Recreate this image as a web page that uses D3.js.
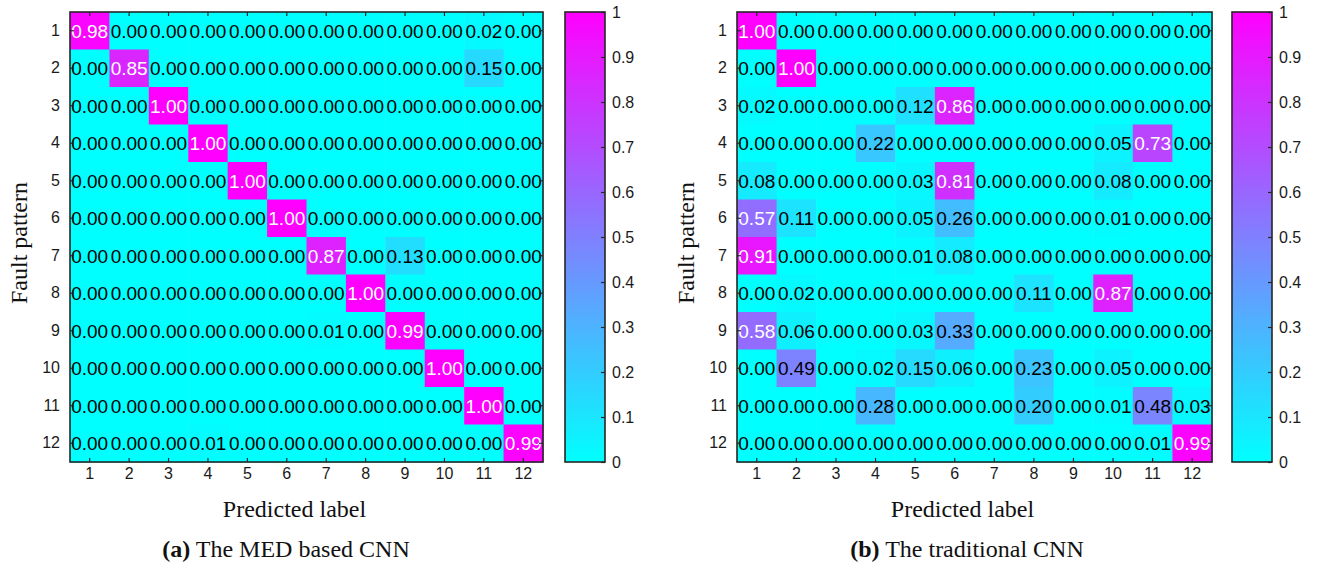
<!DOCTYPE html>
<html>
<head>
<meta charset="utf-8">
<script src="https://cdn.jsdelivr.net/npm/d3@7"></script>
<style>
  body { margin: 0; background: #fff; }
  svg { display: block; }
</style>
</head>
<body>
<div id="caja"></div>
<script>
// clases de falla 1..12
var classes = ["1","2","3","4","5","6","7","8","9","10","11","12"];

// matriz de confusion: MED based CNN (filas = fault pattern)
var medValues = [
  [0.98,0,0,0,0,0,0,0,0,0,0.02,0],
  [0,0.85,0,0,0,0,0,0,0,0,0.15,0],
  [0,0,1.00,0,0,0,0,0,0,0,0,0],
  [0,0,0,1.00,0,0,0,0,0,0,0,0],
  [0,0,0,0,1.00,0,0,0,0,0,0,0],
  [0,0,0,0,0,1.00,0,0,0,0,0,0],
  [0,0,0,0,0,0,0.87,0,0.13,0,0,0],
  [0,0,0,0,0,0,0,1.00,0,0,0,0],
  [0,0,0,0,0,0,0.01,0,0.99,0,0,0],
  [0,0,0,0,0,0,0,0,0,1.00,0,0],
  [0,0,0,0,0,0,0,0,0,0,1.00,0],
  [0,0,0,0.01,0,0,0,0,0,0,0,0.99]
];

// matriz de confusion: traditional CNN
var cnnValues = [
  [1.00,0,0,0,0,0,0,0,0,0,0,0],
  [0,1.00,0,0,0,0,0,0,0,0,0,0],
  [0.02,0,0,0,0.12,0.86,0,0,0,0,0,0],
  [0,0,0,0.22,0,0,0,0,0,0.05,0.73,0],
  [0.08,0,0,0,0.03,0.81,0,0,0,0.08,0,0],
  [0.57,0.11,0,0,0.05,0.26,0,0,0,0.01,0,0],
  [0.91,0,0,0,0.01,0.08,0,0,0,0,0,0],
  [0,0.02,0,0,0,0,0,0.11,0,0.87,0,0],
  [0.58,0.06,0,0,0.03,0.33,0,0,0,0,0,0],
  [0,0.49,0,0.02,0.15,0.06,0,0.23,0,0.05,0,0],
  [0,0,0,0.28,0,0,0,0.20,0,0.01,0.48,0.03],
  [0,0,0,0,0,0,0,0,0,0,0.01,0.99]
];

var colorbarTicks = [0,0.1,0.2,0.3,0.4,0.5,0.6,0.7,0.8,0.9,1];

var w = 1317, h = 571;
var frameColor = "#262626";

var svg = d3.select('#caja')
  .append('svg')
  .attr('width', w)
  .attr('height', h);

// mapa de color tipo "cool" (cian -> magenta)
var color = d3.scaleSequential(d3.interpolateRgb("#00ffff", "#ff00ff")).domain([0, 1]);

var defs = svg.append("defs");
var grad = defs.append("linearGradient")
  .attr("id", "cbgrad")
  .attr("x1", 0).attr("y1", 1).attr("x2", 0).attr("y2", 0);
d3.range(0, 1.01, 0.1).forEach(function(t) {
  grad.append("stop").attr("offset", t).attr("stop-color", color(t));
});

function drawPanel(id, values, left, right, cbLeft, caption, captionBold, captionX) {
  var top = 12, bottom = 462;

  var x = d3.scaleBand().domain(classes).range([left, right]);
  var y = d3.scaleBand().domain(classes).range([top, bottom]);

  var g = svg.append("g");

  defs.append("clipPath").attr("id", "clip" + id)
    .append("rect")
    .attr("x", left).attr("y", top)
    .attr("width", right - left).attr("height", bottom - top);

  var cells = [];
  values.forEach(function(row, i) {
    row.forEach(function(v, j) {
      cells.push({ r: classes[i], c: classes[j], v: v });
    });
  });

  g.append("g").selectAll("rect")
    .data(cells)
    .enter()
    .append("rect")
    .attr("x", function(d) { return x(d.c); })
    .attr("y", function(d) { return y(d.r); })
    .attr("width", x.bandwidth() + 0.5)
    .attr("height", y.bandwidth() + 0.5)
    .attr("fill", function(d) { return color(d.v); });

  g.append("g")
    .attr("clip-path", "url(#clip" + id + ")")
    .selectAll("text")
    .data(cells)
    .enter()
    .append("text")
    .text(function(d) { return d.v.toFixed(2); })
    .attr("x", function(d) { return x(d.c) + x.bandwidth() / 2; })
    .attr("y", function(d) { return y(d.r) + y.bandwidth() / 2; })
    .attr("dy", "0.36em")
    .attr("text-anchor", "middle")
    .attr("font-family", "Liberation Sans, Arial, sans-serif")
    .attr("font-size", "19px")
    .attr("fill", function(d) { return d.v > 0.5 ? "#ffffff" : "#000000"; });

  // ejes con ticks hacia adentro
  function styleAxis(sel) {
    sel.select(".domain").remove();
    sel.selectAll(".tick line").attr("stroke", frameColor).attr("stroke-width", 1.2);
    sel.selectAll(".tick text")
      .attr("font-family", "Liberation Sans, Arial, sans-serif")
      .attr("font-size", "16px")
      .attr("fill", "#1a1a1a");
  }

  g.append("g").attr("transform", "translate(0," + bottom + ")")
    .call(d3.axisBottom(x).tickSizeInner(-4).tickSizeOuter(0).tickPadding(6))
    .call(styleAxis);
  g.append("g").attr("transform", "translate(0," + top + ")")
    .call(d3.axisTop(x).tickSizeInner(-4).tickSizeOuter(0).tickFormat(""))
    .call(styleAxis);
  g.append("g").attr("transform", "translate(" + left + ",0)")
    .call(d3.axisLeft(y).tickSizeInner(-4).tickSizeOuter(0).tickPadding(10))
    .call(styleAxis);
  g.append("g").attr("transform", "translate(" + right + ",0)")
    .call(d3.axisRight(y).tickSizeInner(-4).tickSizeOuter(0).tickFormat(""))
    .call(styleAxis);

  g.append("rect")
    .attr("x", left).attr("y", top)
    .attr("width", right - left).attr("height", bottom - top)
    .attr("fill", "none")
    .attr("stroke", frameColor)
    .attr("stroke-width", 1.6);

  // barra de color
  var cbW = 40;
  var cy = d3.scaleLinear().domain([0, 1]).range([bottom, top]);
  g.append("rect")
    .attr("x", cbLeft).attr("y", top)
    .attr("width", cbW).attr("height", bottom - top)
    .attr("fill", "url(#cbgrad)");
  g.append("g").attr("transform", "translate(" + (cbLeft + cbW) + ",0)")
    .call(d3.axisRight(cy).tickValues(colorbarTicks).tickSizeInner(-4).tickSizeOuter(0).tickPadding(7)
      .tickFormat(function(d) { return (d === 0 || d === 1) ? d3.format("d")(d) : d3.format(".1f")(d); }))
    .call(styleAxis);
  g.append("rect")
    .attr("x", cbLeft).attr("y", top)
    .attr("width", cbW).attr("height", bottom - top)
    .attr("fill", "none")
    .attr("stroke", frameColor)
    .attr("stroke-width", 1.6);

  // titulos de ejes
  g.append("text")
    .text("Predicted label")
    .attr("x", (left + right) / 2 - 12)
    .attr("y", 517)
    .attr("text-anchor", "middle")
    .attr("font-family", "Liberation Serif, Times New Roman, serif")
    .attr("font-size", "24px")
    .attr("fill", "#111");

  g.append("text")
    .text("Fault pattern")
    .attr("transform", "translate(" + (left - 51) + "," + ((top + bottom) / 2 + 6) + ") rotate(-90)")
    .attr("dy", "0.35em")
    .attr("text-anchor", "middle")
    .attr("font-family", "Liberation Serif, Times New Roman, serif")
    .attr("font-size", "24px")
    .attr("fill", "#111");

  var cap = g.append("text")
    .attr("x", captionX)
    .attr("y", 557)
    .attr("text-anchor", "middle")
    .attr("font-family", "Liberation Serif, Times New Roman, serif")
    .attr("font-size", "24px")
    .attr("fill", "#111");
  cap.append("tspan").attr("font-weight", "bold").text(captionBold);
  cap.append("tspan").text(" " + caption);
}

drawPanel("a", medValues, 70, 543, 565, "The MED based CNN", "(a)", 286);
drawPanel("b", cnnValues, 737, 1212, 1232, "The traditional CNN", "(b)", 967);
</script>
</body>
</html>
